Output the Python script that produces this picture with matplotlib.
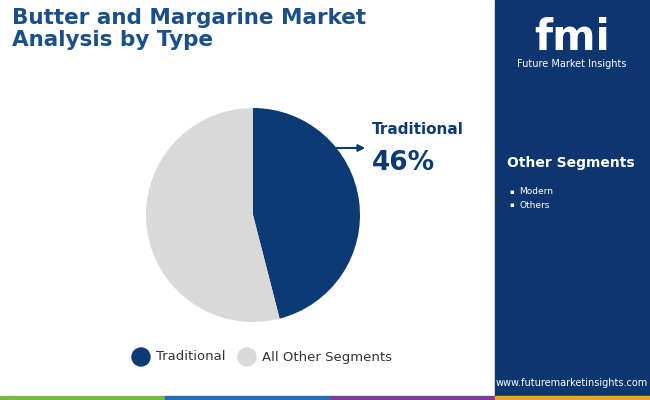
import matplotlib.pyplot as plt
from matplotlib.patches import Rectangle, Circle

# data
labels = ["Traditional", "All Other Segments"]
shares = [46, 54]
colors = ["#0b3a75", "#d9d9d9"]
other_segments = ["Modern", "Others"]

navy = "#0b3a75"
title_col = "#1a4f8a"

fig = plt.figure(figsize=(6.5, 4), dpi=100)
bg = fig.add_axes([0, 0, 1, 1])
bg.set_xlim(0, 650)
bg.set_ylim(400, 0)
bg.axis("off")

# right panel
bg.add_patch(Rectangle((495, 0), 155, 400, color="#0d3570"))
# bottom colour strip
for x0, w, c in [(0, 165, "#7ab648"), (165, 165, "#2a6cb5"), (330, 165, "#7b3f98"), (495, 155, "#f0a030")]:
    bg.add_patch(Rectangle((x0, 396), w, 4, color=c))

bg.text(12, 8, "Butter and Margarine Market\nAnalysis by Type", fontsize=15.5,
        fontweight="bold", color=title_col, va="top", ha="left", linespacing=1.15)

# logo area
bg.text(572, 38, "fmi", fontsize=30, fontweight="bold", color="white", ha="center", va="center")
bg.text(572, 64, "Future Market Insights", fontsize=7, color="white", ha="center", va="center")

bg.text(571, 163, "Other Segments", fontsize=10, fontweight="bold", color="white", ha="center", va="center")
for i, s in enumerate(other_segments):
    bg.text(509, 192 + i * 13, "\u25aa", fontsize=5, color="white", va="center")
    bg.text(519, 192 + i * 13, s, fontsize=6.5, color="white", va="center")
bg.text(572, 383, "www.futuremarketinsights.com", fontsize=7, color="white", ha="center", va="center")

# pie
ax = fig.add_axes([146 / 650, 78 / 400, 214 / 650, 214 / 400])
ax.pie(shares, colors=colors, startangle=90, counterclock=False, radius=1)
ax.set_xlim(-1, 1)
ax.set_ylim(-1, 1)
ax.set_aspect("auto")

# annotation
bg.annotate("", xy=(368, 148), xytext=(333, 148),
            arrowprops=dict(arrowstyle="-|>", color=navy, lw=1.5))
bg.text(372, 129, labels[0], fontsize=11, fontweight="bold", color=navy, va="center")
bg.text(372, 163, f"{shares[0]}%", fontsize=19, fontweight="bold", color=navy, va="center")

# legend
for x, lab, c in [(141, labels[0], colors[0]), (247, labels[1], colors[1])]:
    bg.add_patch(Circle((x, 357), 9, color=c))
    bg.text(x + 15, 357, lab, fontsize=9.5, color="#333333", va="center")

fig.savefig("out.png", dpi=100)
